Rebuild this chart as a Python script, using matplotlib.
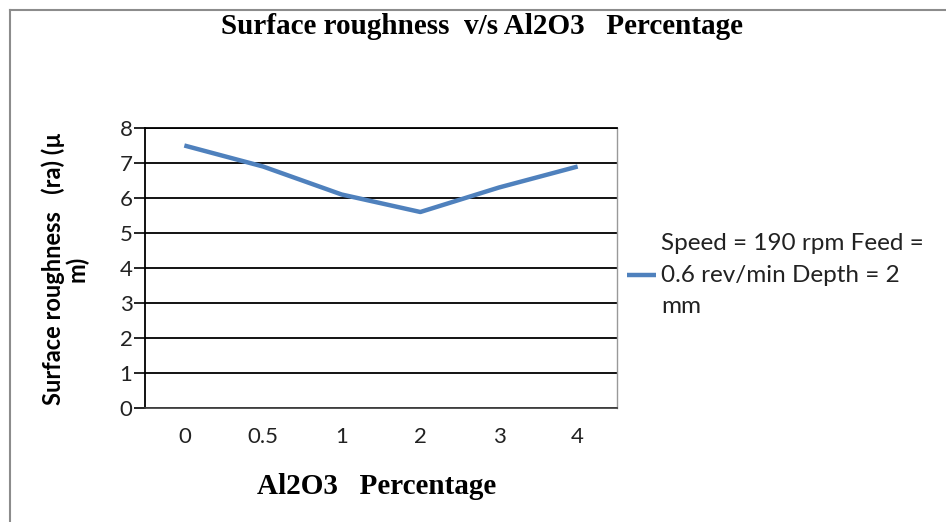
import matplotlib
matplotlib.use('Agg')
from matplotlib import pyplot as plt
from matplotlib.lines import Line2D

# data
categories = ['0', '0.5', '1', '2', '3', '4']
roughness = [7.5, 6.9, 6.1, 5.6, 6.3, 6.9]
series_label = 'Speed = 190 rpm Feed =\n0.6 rev/min Depth = 2\nmm'
y_ticks = [0, 1, 2, 3, 4, 5, 6, 7, 8]

sans = ['Lato', 'DejaVu Sans']
serif = ['Liberation Serif', 'DejaVu Serif']

fig = plt.figure(figsize=(9.46, 5.22), dpi=100)
ax = fig.add_axes([145 / 946, 1 - 408 / 522, 472 / 946, 280 / 522])

x = list(range(len(categories)))
ax.plot(x, roughness, color='#4F81BD', lw=3.2, solid_capstyle='butt', zorder=3)

ax.set_xlim(-0.5, len(categories) - 0.5)
ax.set_ylim(0, 8)
ax.set_yticks(y_ticks)
ax.set_xticks(x)
ax.set_xticklabels(categories)
ax.yaxis.grid(True, color='black', lw=1.3)
ax.set_axisbelow(True)

for lab in ax.get_xticklabels() + ax.get_yticklabels():
    lab.set_family(sans)
    lab.set_fontsize(16)
    lab.set_color('#222222')
ax.tick_params(axis='x', length=0, pad=14)
ax.tick_params(axis='y', length=8, width=1.2, direction='out', pad=1)

ax.spines['left'].set_color('black')
ax.spines['left'].set_linewidth(1.3)
ax.spines['bottom'].set_color('#444444')
ax.spines['bottom'].set_linewidth(1.3)
ax.spines['right'].set_color('#999999')
ax.spines['right'].set_linewidth(1.0)
ax.spines['top'].set_color('black')
ax.spines['top'].set_linewidth(1.3)

fig.text(482 / 946, 1 - 27 / 522, 'Surface roughness  v/s Al2O3   Percentage',
         ha='center', va='center', family=serif, weight='bold', fontsize=21)
fig.text(377 / 946, 1 - 487 / 522, 'Al2O3   Percentage',
         ha='center', va='center', family=serif, weight='bold', fontsize=21)
fig.text(53 / 946, 1 - 269 / 522, 'Surface roughness   (ra) (\u00b5', rotation=90,
         ha='center', va='center', family=sans, weight='bold', fontsize=17)
fig.text(77 / 946, 1 - 269 / 522, 'm)', rotation=90,
         ha='center', va='center', family=sans, weight='bold', fontsize=17)

leg = ax.legend([series_label], loc='center left', bbox_to_anchor=(0.975, 0.475),
                frameon=False, handlelength=1.2, handletextpad=0.2,
                prop={'family': sans, 'size': 17.5})
for t in leg.get_texts():
    t.set_linespacing(1.6)
    t.set_color('#222222')

# outer chart frame (only top and left edges are visible)
fig.add_artist(Line2D([10 / 946, 1], [1 - 10 / 522, 1 - 10 / 522],
                      color='#8c8c8c', lw=1.5, transform=fig.transFigure))
fig.add_artist(Line2D([10 / 946, 10 / 946], [0, 1 - 10 / 522],
                      color='#8c8c8c', lw=1.5, transform=fig.transFigure))

fig.savefig('out.png', dpi=100)
